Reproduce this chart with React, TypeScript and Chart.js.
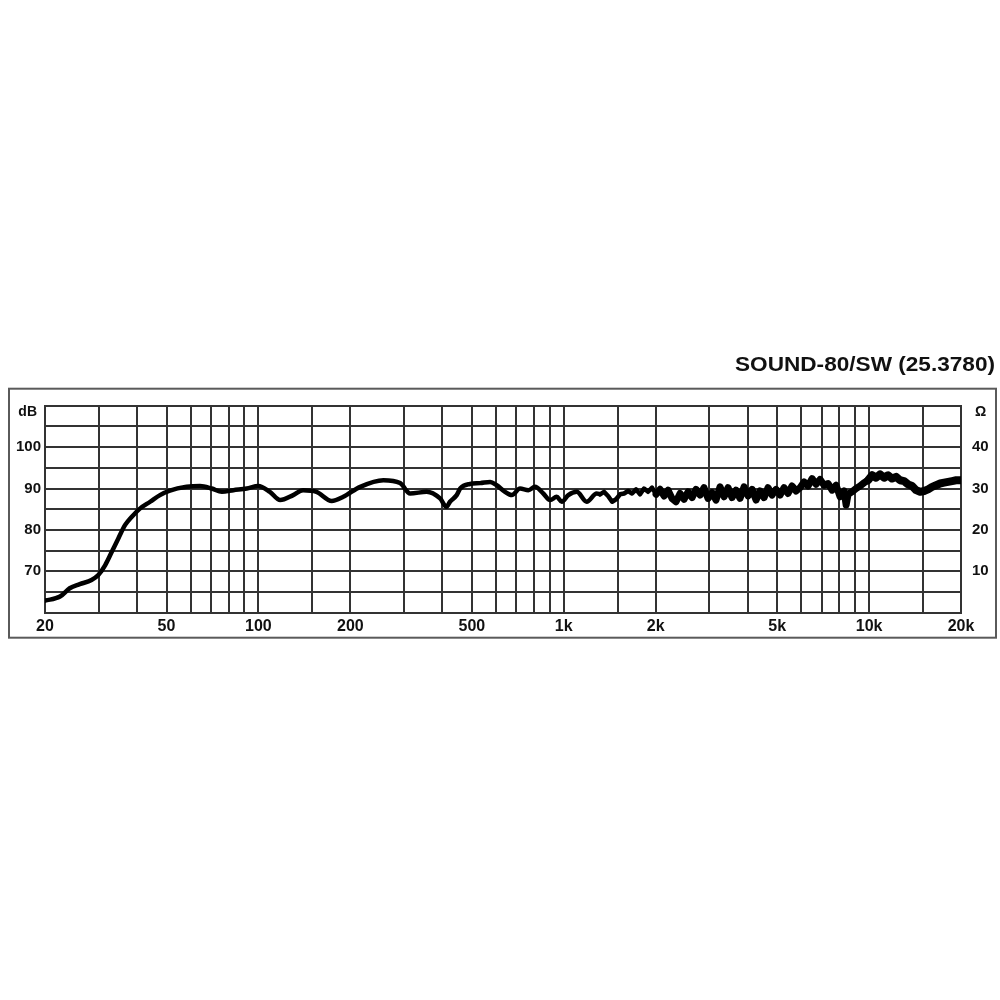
import React, { useEffect, useRef } from "react";
import { Chart, registerables } from "chart.js";

Chart.register(...registerables);

const TITLE = "SOUND-80/SW (25.3780)";
const DB_UNIT = "dB";
const OHM_UNIT = "Ω";

const FREQ_HZ = [
  20, 22.4, 24.1, 26, 28.4, 29.9, 31.5, 33.1, 34.8, 36.6, 38.5, 41, 44.2, 47.6, 51.3, 58.2,
  64.4, 70.3, 75.9, 82.8, 91.6, 99.9, 109, 117.8, 130, 140, 155, 173.8, 189.7, 215.5, 256.6,
  291, 313.8, 355.7, 393.4, 413, 424, 446, 458, 493, 532, 574, 603, 642, 676, 719, 766, 805,
  857, 902, 948, 985, 1035, 1103, 1189, 1282, 1315, 1355, 1397, 1440, 1484, 1529, 1576, 1624,
  1674, 1725, 1778, 1832, 1889, 1946, 2006, 2067, 2131, 2196, 2263, 2332, 2404, 2477, 2553,
  2631, 2712, 2795, 2880, 2969, 3060, 3153, 3250, 3350, 3452, 3558, 3667, 3779, 3895, 4014,
  4137, 4264, 4395, 4529, 4668, 4811, 4958, 5110, 5266, 5428, 5594, 5765, 5942, 6124, 6311,
  6505, 6704, 6912, 7123, 7341, 7566, 7797, 8036, 8282, 8410, 8535, 8797, 9066, 9344, 9630,
  9925, 10229, 10542, 10865, 11198, 11541, 11894, 12259, 12634, 13021, 13420, 13831, 14255,
  14691, 15141, 15605, 16083, 16576, 17084, 17607, 18146, 18702, 19275, 19862, 20000,
];

const SPL_DB = [
  62.9, 63.9, 65.9, 66.9, 67.9, 69.1, 71.5, 74.7, 78, 81.2, 83.2, 85.2, 86.8, 88.4, 89.5, 90.4,
  90.6, 90, 89.2, 89.6, 90, 90.6, 89.2, 87.2, 88.4, 89.6, 89.2, 87, 88, 90.4, 92,
  91.3, 88.8, 89.2, 87.6, 85.6, 86.8, 88.4, 90, 91.1, 91.3, 91.6, 90.8, 89.2, 88.4, 90, 89.6, 90.4,
  88.8, 87.2, 88, 86.8, 88.4, 89.2, 86.8, 88.8, 88.6, 89.2, 88.2, 86.8, 87.4, 88.6, 88.8, 89.4,
  88.8, 89.8, 88.6, 90, 89.2, 90.2, 88.6, 89.8, 88.2, 89.6, 87.6, 86.8, 88.8, 87.4, 89.2,
  87.8, 89.8, 88.4, 90.2, 87.6, 89, 87.2, 90.4, 88, 90.2, 87.8, 89.6, 87.6, 90.4, 88.2,
  89.8, 87.2, 89.4, 87.8, 90.2, 88.4, 89.8, 88.4, 90.2, 88.8, 90.6, 89.4, 90.2, 91.6, 90.6,
  92.4, 91, 92.2, 90.8, 91.2, 89.6, 90.8, 88, 89.4, 86, 88.6, 89.2, 90, 90.6, 91.4,
  92, 93.2, 92.6, 93.4, 92.6, 93.2, 92.4, 92.8, 92, 91.8, 91, 90.6, 89.6,
  89.2, 89.4, 89.8, 90.4, 90.8, 91.2, 91.4, 91.6, 91.8, 92, 92, 92,
];

// frequency where the measured curve turns from smooth to noisy
const NOISY_FROM_HZ = 1315;

const X_GRID = [
  20, 30, 40, 50, 60, 70, 80, 90, 100, 150, 200, 300, 400, 500, 600, 700, 800, 900,
  1000, 1500, 2000, 3000, 4000, 5000, 6000, 7000, 8000, 9000, 10000, 15000, 20000,
];
const X_LABEL_VALUES = [20, 50, 100, 200, 500, 1000, 2000, 5000, 10000, 20000];
const X_LABEL_TEXTS = ["20", "50", "100", "200", "500", "1k", "2k", "5k", "10k", "20k"];
const DB_LABEL_VALUES = [70, 80, 90, 100];
const OHM_LABEL_VALUES = [10, 20, 30, 40];

const GRID_COLOR = "#333";
const TEXT_COLOR = "#111";
const FONT_FAMILY = "'Liberation Sans', Arial, sans-serif";

const decorPlugin = {
  id: "decor",
  beforeDraw(chart: any) {
    const ctx = chart.ctx;
    ctx.save();
    ctx.fillStyle = "#fff";
    ctx.fillRect(0, 0, chart.width, chart.height);
    ctx.restore();
  },
  afterDraw(chart: any) {
    const ctx = chart.ctx;
    const a = chart.chartArea;
    ctx.save();
    ctx.strokeStyle = "#5a5a5a";
    ctx.lineWidth = 2;
    ctx.strokeRect(a.left - 36, a.top - 17, a.right - a.left + 36 + 35, a.bottom - a.top + 17 + 25);
    ctx.fillStyle = TEXT_COLOR;
    ctx.font = `bold 14px ${FONT_FAMILY}`;
    ctx.textBaseline = "middle";
    ctx.textAlign = "right";
    ctx.fillText(DB_UNIT, a.left - 8, a.top + 6);
    ctx.textAlign = "left";
    ctx.fillText(OHM_UNIT, a.right + 14, a.top + 6);
    ctx.font = `bold 20px ${FONT_FAMILY}`;
    ctx.textAlign = "right";
    ctx.textBaseline = "alphabetic";
    const w = ctx.measureText(TITLE).width;
    const targetW = 260;
    ctx.translate(a.right + 34, a.top - 35);
    ctx.scale(targetW / w, 1);
    ctx.fillText(TITLE, 0, 0);
    ctx.restore();
  },
};

export default function App() {
  const ref = useRef<HTMLCanvasElement | null>(null);

  useEffect(() => {
    if (!ref.current) return;
    const points = FREQ_HZ.map((f, i) => ({ x: f, y: SPL_DB[i] }));
    const smooth = points.filter((p) => p.x <= NOISY_FROM_HZ);
    const noisy = points.filter((p) => p.x >= NOISY_FROM_HZ);
    const common = {
      borderColor: "#000",
      pointRadius: 0,
      borderJoinStyle: "round",
      borderCapStyle: "round",
      fill: false,
      yAxisID: "y",
    };
    const chart = new Chart(ref.current, {
      type: "line",
      data: {
        datasets: [
          {
            ...common,
            data: smooth,
            borderWidth: 4.5,
            cubicInterpolationMode: "monotone",
          } as any,
          {
            ...common,
            data: noisy,
            borderWidth: 4.5,
            tension: 0,
            segment: {
              borderWidth: (c: any) => {
                const f = c.p0.parsed.x;
                if (f >= 9900) return 8;
                if (f >= 1950) return 7;
                return 4.5;
              },
            },
          } as any,
        ],
      },
      options: {
        responsive: false,
        animation: false,
        devicePixelRatio: 1,
        layout: { padding: { left: 0, right: 0, top: 405.7, bottom: 362.3 } },
        plugins: { legend: { display: false }, title: { display: false }, tooltip: { enabled: false } },
        scales: {
          x: {
            type: "logarithmic",
            min: 20,
            max: 20000,
            afterBuildTicks: (scale: any) => {
              scale.ticks = X_GRID.map((v) => ({ value: v }));
            },
            afterFit: (scale: any) => {
              scale.height = 25;
            },
            grid: { color: GRID_COLOR, lineWidth: 2, drawTicks: false },
            border: { color: GRID_COLOR, width: 2 },
            ticks: {
              autoSkip: false,
              maxRotation: 0,
              padding: 4,
              color: TEXT_COLOR,
              font: { family: FONT_FAMILY, size: 16, weight: "bold" },
              callback: (v: any) => {
                const i = X_LABEL_VALUES.indexOf(Number(v));
                return i >= 0 ? X_LABEL_TEXTS[i] : "";
              },
            },
          },
          y: {
            type: "linear",
            position: "left",
            min: 60,
            max: 110,
            afterFit: (scale: any) => {
              scale.width = 45;
            },
            grid: { color: GRID_COLOR, lineWidth: 2, drawTicks: false },
            border: { color: GRID_COLOR, width: 2 },
            ticks: {
              stepSize: 5,
              autoSkip: false,
              padding: 4,
              color: TEXT_COLOR,
              font: { family: FONT_FAMILY, size: 15, weight: "bold" },
              callback: (v: any) => (DB_LABEL_VALUES.includes(Number(v)) ? String(v) : ""),
            },
          },
          y2: {
            type: "linear",
            position: "right",
            min: 0,
            max: 50,
            afterFit: (scale: any) => {
              scale.width = 39;
            },
            grid: { drawOnChartArea: false, drawTicks: false },
            border: { color: GRID_COLOR, width: 2 },
            ticks: {
              stepSize: 5,
              autoSkip: false,
              padding: 11,
              color: TEXT_COLOR,
              font: { family: FONT_FAMILY, size: 15, weight: "bold" },
              callback: (v: any) => (OHM_LABEL_VALUES.includes(Number(v)) ? String(v) : ""),
            },
          },
        },
      },
      plugins: [decorPlugin],
    });
    return () => chart.destroy();
  }, []);

  return (
    <div style={{ position: "absolute", left: 0, top: 0, width: 1000, height: 1000 }}>
      <canvas ref={ref} width={1000} height={1000} style={{ display: "block" }} />
    </div>
  );
}
